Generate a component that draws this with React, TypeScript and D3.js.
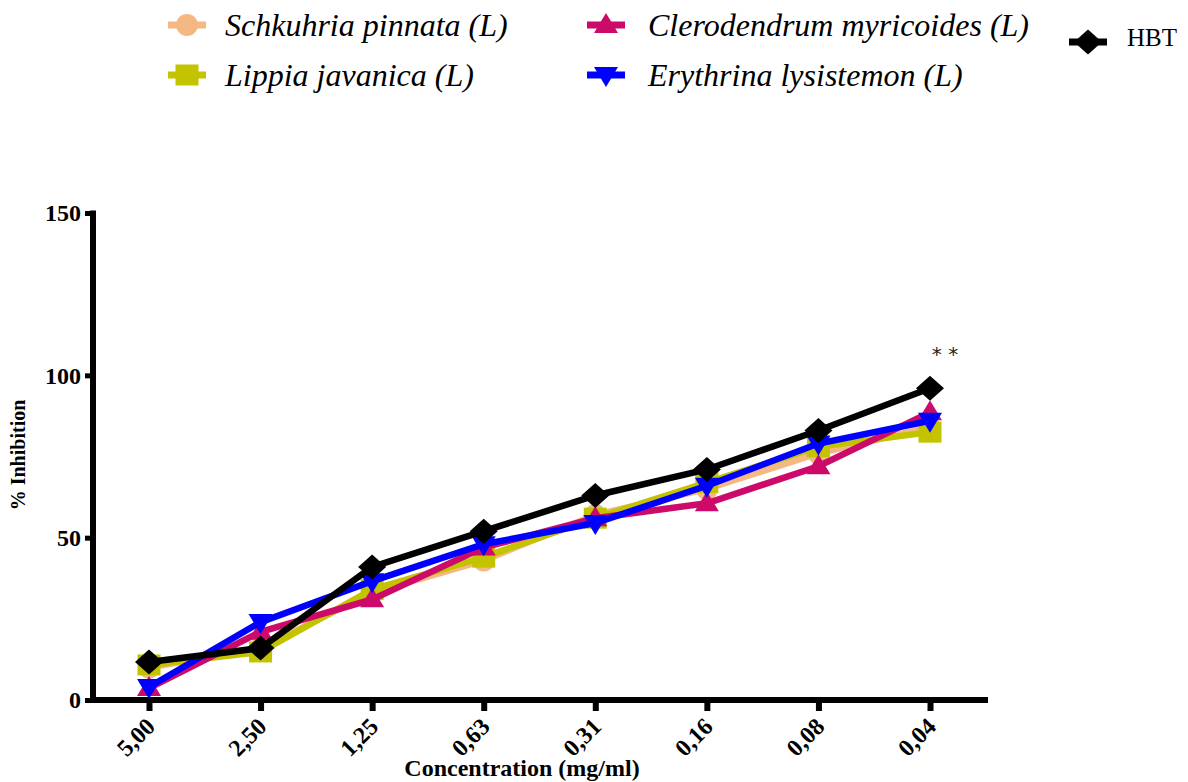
import { useRef, useEffect } from "react";
import * as d3 from "d3";

const concentrations = ["5,00", "2,50", "1,25", "0,63", "0,31", "0,16", "0,08", "0,04"];
const seriesNames = [
  "Schkuhria pinnata (L)",
  "Lippia javanica (L)",
  "Clerodendrum myricoides (L)",
  "Erythrina lysistemon (L)",
  "HBT",
];
const schkuhria = [10, 16, 33, 43, 57, 65, 76, 84];
const lippia = [10.8, 14.8, 34, 44, 56, 67, 78, 82.5];
const clerodendrum = [3.7, 21, 31, 47, 56, 60.6, 72, 88.6];
const erythrina = [4, 24, 36.6, 48, 54.5, 66, 79, 86];
const hbt = [11.7, 16, 41, 52, 63, 71, 83, 96];
const yTicks = [0, 50, 100, 150];
const seriesColors = ["#f4b983", "#c3c300", "#cc0a6a", "#0000ff", "#000000"];
const seriesShapes = ["circle", "square", "triangle", "down", "diamond"];

// marker shapes, fixed sizes in px
const shapes = {
  circle: {
    draw(ctx) {
      ctx.moveTo(11, 0);
      ctx.arc(0, 0, 11, 0, 2 * Math.PI);
    },
  },
  square: {
    draw(ctx) {
      ctx.rect(-11.5, -10.5, 23, 21);
    },
  },
  triangle: {
    draw(ctx) {
      ctx.moveTo(0, -12);
      ctx.lineTo(12, 8);
      ctx.lineTo(-12, 8);
      ctx.closePath();
    },
  },
  down: {
    draw(ctx) {
      ctx.moveTo(0, 12);
      ctx.lineTo(12, -8);
      ctx.lineTo(-12, -8);
      ctx.closePath();
    },
  },
  diamond: {
    draw(ctx) {
      ctx.moveTo(0, -12.5);
      ctx.lineTo(14, 0);
      ctx.lineTo(0, 12.5);
      ctx.lineTo(-14, 0);
      ctx.closePath();
    },
  },
};

const App = () => {
  const svgRef = useRef(null);

  useEffect(() => {
    const svg = d3.select(svgRef.current);
    svg.selectAll("*").remove();

    const allSeries = [schkuhria, lippia, clerodendrum, erythrina, hbt];

    const x = d3.scalePoint().domain(concentrations).range([149, 930]);
    const y = d3.scaleLinear().domain([0, 150]).range([700, 213]);

    const symbolPath = (shape) => d3.symbol(shapes[shape])();

    // lines + markers
    allSeries.forEach((vals, i) => {
      const g = svg.append("g");
      g.append("path")
        .datum(vals)
        .attr("fill", "none")
        .attr("stroke", seriesColors[i])
        .attr("stroke-width", 6.5)
        .attr(
          "d",
          d3
            .line()
            .x((d, j) => x(concentrations[j]))
            .y((d) => y(d))
        );
      g.selectAll("path.pt")
        .data(vals)
        .join("path")
        .attr("class", "pt")
        .attr("fill", seriesColors[i])
        .attr("d", symbolPath(seriesShapes[i]))
        .attr("transform", (d, j) => `translate(${x(concentrations[j])},${y(d)})`);
    });

    // y axis
    const yAxis = svg
      .append("g")
      .attr("transform", "translate(93,0)")
      .call(d3.axisLeft(y).tickValues(yTicks).tickSize(8).tickPadding(4))
      .attr("font-family", null)
      .attr("font-size", null);
    yAxis.select(".domain").remove();
    yAxis.selectAll("line").attr("stroke", "#000").attr("stroke-width", 5);
    yAxis
      .selectAll("text")
      .attr("font-weight", "bold")
      .attr("font-size", 24)
      .attr("fill", "#000");
    svg
      .append("line")
      .attr("x1", 93)
      .attr("x2", 93)
      .attr("y1", 210.5)
      .attr("y2", 703)
      .attr("stroke", "#000")
      .attr("stroke-width", 6);

    // x axis
    const xAxis = svg
      .append("g")
      .attr("transform", "translate(0,700)")
      .call(d3.axisBottom(x).tickSize(11).tickPadding(0))
      .attr("font-family", null)
      .attr("font-size", null);
    xAxis.select(".domain").remove();
    xAxis.selectAll("line").attr("stroke", "#000").attr("stroke-width", 6);
    xAxis
      .selectAll("text")
      .attr("font-weight", "bold")
      .attr("font-size", 24)
      .attr("fill", "#000")
      .attr("text-anchor", "end")
      .attr("y", 0)
      .attr("dy", 0)
      .attr("transform", "translate(7,28) rotate(-45)");
    svg
      .append("line")
      .attr("x1", 90)
      .attr("x2", 988)
      .attr("y1", 700)
      .attr("y2", 700)
      .attr("stroke", "#000")
      .attr("stroke-width", 6);

    // axis titles
    svg
      .append("text")
      .attr("x", 522)
      .attr("y", 776)
      .attr("text-anchor", "middle")
      .attr("font-weight", "bold")
      .attr("font-size", 24)
      .text("Concentration (mg/ml)");
    svg
      .append("text")
      .attr("transform", "translate(25,455) rotate(-90)")
      .attr("text-anchor", "middle")
      .attr("font-weight", "bold")
      .attr("font-size", 20)
      .text("% Inhibition");

    // significance
    svg
      .append("text")
      .attr("x", 945)
      .attr("y", 361)
      .attr("text-anchor", "middle")
      .style("font-family", "DejaVu Sans")
      .attr("font-size", 20)
      .attr("fill", "#222")
      .text("* *");

    // legend
    const legendPos = [
      [187, 25],
      [187, 75],
      [606, 25],
      [606, 75],
      [1088, 42],
    ];
    seriesNames.forEach((name, i) => {
      const [lx, ly] = legendPos[i];
      const lg = svg.append("g").attr("transform", `translate(${lx},${ly})`);
      lg.append("line")
        .attr("x1", -19)
        .attr("x2", 19)
        .attr("stroke", seriesColors[i])
        .attr("stroke-width", 7);
      lg.append("path").attr("fill", seriesColors[i]).attr("d", symbolPath(seriesShapes[i]));
      lg.append("text")
        .attr("x", i === 4 ? 39 : i < 2 ? 38 : 42)
        .attr("y", i === 4 ? 4 : 11)
        .attr("font-style", i === 4 ? "normal" : "italic")
        .attr("font-size", i === 4 ? 25 : 32)
        .attr("fill", "#000")
        .text(name);
    });
  }, []);

  return (
    <div style={{ position: "absolute", left: 0, top: 0 }}>
      <svg
        ref={svgRef}
        width={1188}
        height={782}
        style={{ display: "block", background: "#fff", fontFamily: "Liberation Serif" }}
      ></svg>
    </div>
  );
};

export default App;
